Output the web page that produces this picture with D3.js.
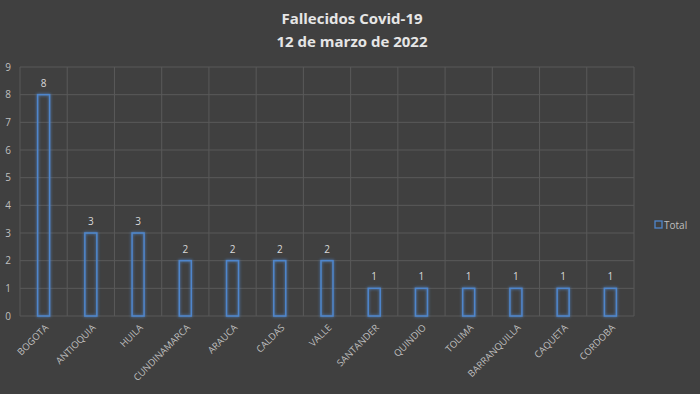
<!DOCTYPE html>
<html>
<head>
<meta charset="utf-8">
<script src="https://cdn.jsdelivr.net/npm/d3@7"></script>
<style>
  body { margin: 0; background: #404040; }
  svg { display: block; font-family: "Open Sans", "Liberation Sans", sans-serif; }
</style>
</head>
<body>
<div id="chart"></div>
<script>
// data
var departamentos = ["BOGOTA", "ANTIOQUIA", "HUILA", "CUNDINAMARCA", "ARAUCA", "CALDAS", "VALLE",
  "SANTANDER", "QUINDIO", "TOLIMA", "BARRANQUILLA", "CAQUETA", "CORDOBA"];
var fallecidos = [8, 3, 3, 2, 2, 2, 2, 1, 1, 1, 1, 1, 1];
var yTicks = [0, 1, 2, 3, 4, 5, 6, 7, 8, 9];

var width = 700, height = 394;
var margin = {top: 67, right: 66, bottom: 78, left: 20};

var svg = d3.select("#chart").append("svg")
  .attr("width", width)
  .attr("height", height);

svg.append("rect")
  .attr("width", width)
  .attr("height", height)
  .attr("fill", "#404040");

// glow for the bar outlines
var defs = svg.append("defs");
var glow = defs.append("filter").attr("id", "glow")
  .attr("x", "-50%").attr("y", "-20%").attr("width", "200%").attr("height", "140%");
glow.append("feGaussianBlur").attr("stdDeviation", 1.6).attr("result", "blur");
var merge = glow.append("feMerge");
merge.append("feMergeNode").attr("in", "blur");
merge.append("feMergeNode").attr("in", "SourceGraphic");

var x = d3.scaleBand()
  .domain(departamentos)
  .range([margin.left, width - margin.right]);

var y = d3.scaleLinear()
  .domain([0, 9])
  .range([height - margin.bottom, margin.top]);

//title
var title = svg.append("text")
  .attr("x", 352)
  .attr("text-anchor", "middle")
  .attr("fill", "#e6e6e6")
  .style("font-size", "15px")
  .style("font-weight", "bold");
title.append("tspan").attr("x", 352).attr("y", 24).text("Fallecidos Covid-19");
title.append("tspan").attr("x", 352).attr("y", 47).text("12 de marzo de 2022");

//horizontal gridlines
svg.append("g")
  .selectAll("line")
  .data(yTicks)
  .enter().append("line")
  .attr("x1", margin.left)
  .attr("x2", width - margin.right)
  .attr("y1", d => y(d))
  .attr("y2", d => y(d))
  .attr("stroke", "#595959")
  .attr("stroke-width", 1);

//vertical gridlines at category boundaries
var bounds = departamentos.map(d => x(d)).concat([width - margin.right]);
svg.append("g")
  .selectAll("line")
  .data(bounds)
  .enter().append("line")
  .attr("x1", d => d)
  .attr("x2", d => d)
  .attr("y1", y(0))
  .attr("y2", y(9))
  .attr("stroke", "#595959")
  .attr("stroke-width", 1);

//y axis labels
svg.append("g")
  .selectAll("text")
  .data(yTicks)
  .enter().append("text")
  .attr("x", 8)
  .attr("y", d => y(d))
  .attr("dy", "0.35em")
  .attr("text-anchor", "middle")
  .attr("fill", "#bfbfbf")
  .style("font-size", "10px")
  .text(d => d);

//bars
var barW = 12;
svg.append("g")
  .selectAll("rect")
  .data(fallecidos)
  .enter().append("rect")
  .attr("x", (d, i) => x(departamentos[i]) + x.bandwidth() / 2 - barW / 2)
  .attr("y", d => y(d))
  .attr("width", barW)
  .attr("height", d => y(0) - y(d))
  .attr("fill", "none")
  .attr("stroke", "#4f86cc")
  .attr("stroke-width", 1.5)
  .attr("filter", "url(#glow)");

//value labels
svg.append("g")
  .selectAll("text")
  .data(fallecidos)
  .enter().append("text")
  .attr("x", (d, i) => x(departamentos[i]) + x.bandwidth() / 2)
  .attr("y", d => y(d) - 8)
  .attr("text-anchor", "middle")
  .attr("fill", "#d9d9d9")
  .style("font-size", "10px")
  .text(d => d);

//category labels, rotated
svg.append("g")
  .selectAll("text")
  .data(departamentos)
  .enter().append("text")
  .attr("transform", d => "translate(" + (x(d) + x.bandwidth() / 2 + 3) + "," + (y(0) + 10) + ") rotate(-45)")
  .attr("text-anchor", "end")
  .attr("dy", "0.35em")
  .attr("fill", "#bfbfbf")
  .style("font-size", "9.5px")
  .text(d => d);

//legend
var legend = svg.append("g").attr("transform", "translate(655,225)");
legend.append("rect")
  .attr("x", 0).attr("y", -4)
  .attr("width", 7).attr("height", 7)
  .attr("fill", "none")
  .attr("stroke", "#4f86cc")
  .attr("stroke-width", 1.3);
legend.append("text")
  .attr("x", 9)
  .attr("y", 0)
  .attr("dy", "0.35em")
  .attr("fill", "#bfbfbf")
  .style("font-size", "10px")
  .text("Total");
</script>
</body>
</html>
